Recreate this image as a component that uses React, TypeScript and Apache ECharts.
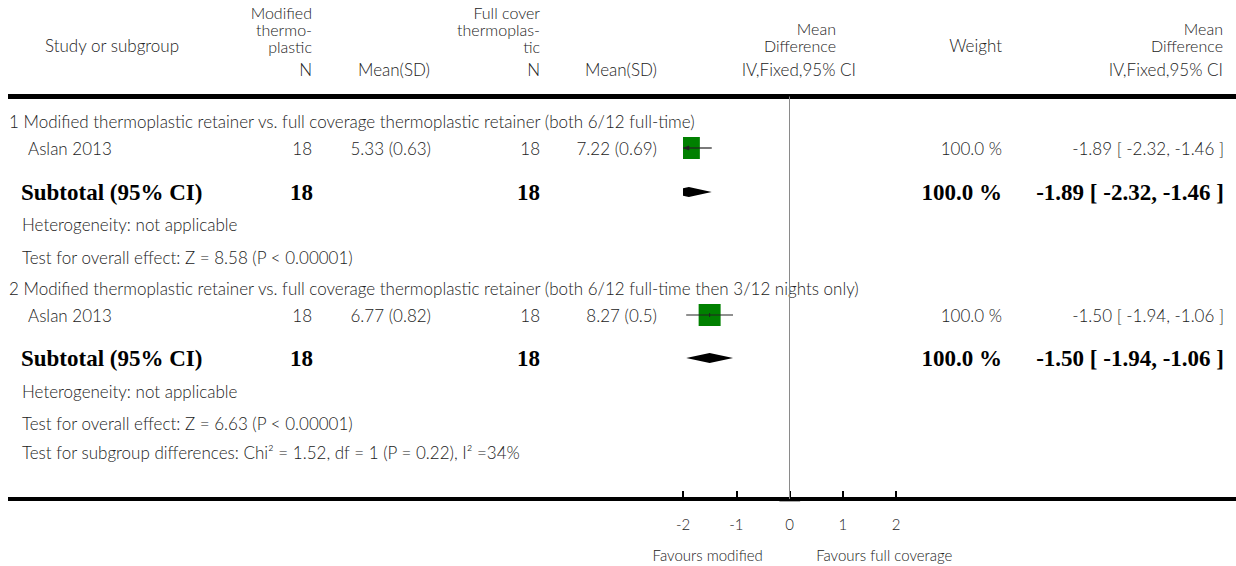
import React, { useEffect, useRef } from "react";
import * as echarts from "echarts";

// ---------- data ----------
const subgroupTitles = [
  "1 Modified thermoplastic retainer vs. full coverage thermoplastic retainer (both 6/12 full-time)",
  "2 Modified thermoplastic retainer vs. full coverage thermoplastic retainer (both 6/12 full-time then 3/12 nights only)",
];
const studyNames = ["Aslan 2013", "Aslan 2013"];
const nModified = [18, 18];
const meanSdModified = ["5.33 (0.63)", "6.77 (0.82)"];
const nFull = [18, 18];
const meanSdFull = ["7.22 (0.69)", "8.27 (0.5)"];
const studyMD = [-1.89, -1.5];
const studyLow = [-2.32, -1.94];
const studyHigh = [-1.46, -1.06];
const studyWeight = [100.0, 100.0];

const subtotalN1 = [18, 18];
const subtotalN2 = [18, 18];
const subtotalMD = [-1.89, -1.5];
const subtotalLow = [-2.32, -1.94];
const subtotalHigh = [-1.46, -1.06];
const subtotalWeight = [100.0, 100.0];

const heterogeneity = ["Heterogeneity: not applicable", "Heterogeneity: not applicable"];
const overallEffect = [
  "Test for overall effect: Z = 8.58 (P < 0.00001)",
  "Test for overall effect: Z = 6.63 (P < 0.00001)",
];
const subgroupDifferences = "Test for subgroup differences: Chi\u00B2 = 1.52, df = 1 (P = 0.22), I\u00B2 =34%";
const xTicks = [-2, -1, 0, 1, 2];
const favoursLeft = "Favours modified";
const favoursRight = "Favours full coverage";

// ---------- layout ----------
const W = 1236;
const H = 566;
const AX_L = 683;
const AX_R = 896;
const TOP = 96.5;
const BOT = 499;
const X_MIN = -2;
const X_MAX = 2;
const ROW_TITLE = [121, 288];
const ROW_STUDY = [148, 315];
const ROW_SUB = [192, 358];
const ROW_HET = [224, 391];
const ROW_OVR = [257, 423];
const ROW_DIFF = 452;

const SANS = "Lato, 'Open Sans', sans-serif";
const SERIF = "'Liberation Serif', 'DejaVu Serif', serif";
const TXT = "#222";
const FS = 17;
const FS_HEAD = 16;
const LH_HEAD = 17;
const FS_BOLD = 23;

const fmt = (v: number) => v.toFixed(2);
const ciText = (m: number, l: number, h: number) => `${fmt(m)} [ ${fmt(l)}, ${fmt(h)} ]`;
const wText = (w: number) => `${w.toFixed(1)} %`;

function t(text: string, x: number, y: number, align = "left", bold = false, size?: number, lineHeight?: number) {
  return {
    type: "text",
    x,
    y,
    silent: true,
    style: {
      text,
      fill: bold ? "#000" : TXT,
      fontFamily: bold ? SERIF : SANS,
      fontWeight: bold ? "bold" : 300,
      fontSize: size ?? (bold ? FS_BOLD : FS),
      lineHeight: lineHeight ?? undefined,
      align,
      textAlign: align,
      verticalAlign: "middle",
      textVerticalAlign: "middle",
    },
  };
}

function clipPoly(pts: number[][], xmin: number, xmax: number) {
  const clipEdge = (poly: number[][], inside: (p: number[]) => boolean, xe: number) => {
    const out: number[][] = [];
    for (let i = 0; i < poly.length; i++) {
      const a = poly[i];
      const b = poly[(i + 1) % poly.length];
      const ina = inside(a);
      const inb = inside(b);
      if (ina) out.push(a);
      if (ina !== inb) {
        const tt = (xe - a[0]) / (b[0] - a[0]);
        out.push([xe, a[1] + tt * (b[1] - a[1])]);
      }
    }
    return out;
  };
  let p = clipEdge(pts, (q) => q[0] >= xmin, xmin);
  p = clipEdge(p, (q) => q[0] <= xmax, xmax);
  return p;
}

export default function App() {
  const ref = useRef<HTMLDivElement>(null);
  useEffect(() => {
    if (!ref.current) return;
    const chart = echarts.init(ref.current, undefined, { renderer: "svg" });
    const px = (v: number) => AX_L + ((v - X_MIN) / (X_MAX - X_MIN)) * (AX_R - AX_L);

    const forestData: any[] = [];
    for (let i = 0; i < studyMD.length; i++) {
      forestData.push([studyMD[i], studyLow[i], studyHigh[i], ROW_STUDY[i], studyWeight[i], 0]);
      forestData.push([subtotalMD[i], subtotalLow[i], subtotalHigh[i], ROW_SUB[i], subtotalWeight[i], 1]);
    }

    const g: any[] = [];
    // header
    g.push(t("Study or subgroup", 45, 45));
    g.push(t("Modified\nthermo-\nplastic", 312, 29, "right", false, FS_HEAD, LH_HEAD));
    g.push(t("N", 312, 69, "right"));
    g.push(t("Mean(SD)", 430, 69, "right"));
    g.push(t("Full cover\nthermoplas-\ntic", 540, 29, "right", false, FS_HEAD, LH_HEAD));
    g.push(t("N", 540, 69, "right"));
    g.push(t("Mean(SD)", 657, 69, "right"));
    g.push(t("Mean\nDifference", 836, 37, "right", false, FS_HEAD, LH_HEAD));
    g.push(t("IV,Fixed,95% CI", 856, 69, "right"));
    g.push(t("Weight", 1002, 45, "right"));
    g.push(t("Mean\nDifference", 1223, 37, "right", false, FS_HEAD, LH_HEAD));
    g.push(t("IV,Fixed,95% CI", 1223, 69, "right"));
    // rules
    g.push({ type: "line", silent: true, shape: { x1: 8, y1: TOP, x2: W, y2: TOP }, style: { stroke: "#000", lineWidth: 5 } });
    g.push({ type: "line", silent: true, shape: { x1: 8, y1: BOT, x2: W, y2: BOT }, style: { stroke: "#000", lineWidth: 4 } });
    g.push({ type: "line", silent: true, shape: { x1: px(-0.19), y1: BOT + 2.5, x2: px(0.2), y2: BOT + 2.5 }, style: { stroke: "#aaa", lineWidth: 1 } });

    for (let i = 0; i < subgroupTitles.length; i++) {
      g.push(t(subgroupTitles[i], 9, ROW_TITLE[i]));
      g.push(t(studyNames[i], 28, ROW_STUDY[i]));
      g.push(t(String(nModified[i]), 312, ROW_STUDY[i], "right"));
      g.push(t(meanSdModified[i], 431, ROW_STUDY[i], "right"));
      g.push(t(String(nFull[i]), 540, ROW_STUDY[i], "right"));
      g.push(t(meanSdFull[i], 657, ROW_STUDY[i], "right"));
      g.push(t(wText(studyWeight[i]), 1002, ROW_STUDY[i], "right"));
      g.push(t(ciText(studyMD[i], studyLow[i], studyHigh[i]), 1224, ROW_STUDY[i], "right"));

      g.push(t("Subtotal (95% CI)", 21, ROW_SUB[i], "left", true));
      g.push(t(String(subtotalN1[i]), 313, ROW_SUB[i], "right", true));
      g.push(t(String(subtotalN2[i]), 540, ROW_SUB[i], "right", true));
      g.push(t(wText(subtotalWeight[i]), 1002, ROW_SUB[i], "right", true));
      g.push(t(ciText(subtotalMD[i], subtotalLow[i], subtotalHigh[i]), 1224, ROW_SUB[i], "right", true));

      g.push(t(heterogeneity[i], 22, ROW_HET[i]));
      g.push(t(overallEffect[i], 22, ROW_OVR[i]));
    }
    g.push(t(subgroupDifferences, 22, ROW_DIFF));
    g.push(t(favoursLeft, px(-0.5), 555, "right", false, 15));
    g.push(t(favoursRight, px(0.5), 555, "left", false, 15));

    chart.setOption({
      animation: false,
      grid: { left: AX_L, top: TOP, width: AX_R - AX_L, height: BOT - TOP, containLabel: false },
      xAxis: {
        type: "value",
        min: X_MIN,
        max: X_MAX,
        interval: 1,
        splitLine: { show: false },
        axisLine: { show: false },
        axisTick: { show: true, inside: true, length: 8, lineStyle: { color: "#000", width: 2 } },
        axisLabel: {
          show: true,
          margin: 17,
          color: TXT,
          fontFamily: SANS,
          fontWeight: 300,
          fontSize: 15,
          customValues: xTicks,
          formatter: (v: number) => String(v),
        },
      },
      yAxis: { type: "value", min: TOP, max: BOT, inverse: true, show: false },
      series: [
        {
          type: "custom",
          data: forestData,
          encode: { x: [0, 1, 2], y: 3 },
          silent: true,
          renderItem: (params: any, api: any) => {
            const cs = params.coordSys;
            const left = cs.x;
            const right = cs.x + cs.width;
            const yv = api.value(3);
            const [cx, cy] = api.coord([api.value(0), yv]);
            const xl = api.coord([api.value(1), yv])[0];
            const xh = api.coord([api.value(2), yv])[0];
            const kind = api.value(5);
            if (kind === 1) {
              const pts = clipPoly([[xl, cy], [cx, cy - 5], [xh, cy], [cx, cy + 5]], left, right);
              return { type: "polygon", shape: { points: pts }, style: { fill: "#000" } };
            }
            const s = 22 * Math.sqrt(api.value(4) / 100);
            const x0 = Math.max(cx - s / 2, left);
            const x1 = Math.min(cx + s / 2, right);
            const children: any[] = [
              { type: "rect", shape: { x: x0, y: cy - s / 2, width: x1 - x0, height: s }, style: { fill: "#008000" } },
              {
                type: "line",
                shape: { x1: Math.max(xl, left), y1: cy, x2: Math.min(xh, right), y2: cy },
                style: { stroke: "#222", lineWidth: 1.2 },
              },
              { type: "line", shape: { x1: cx, y1: cy - 2, x2: cx, y2: cy + 2 }, style: { stroke: "#222", lineWidth: 1 } },
            ];
            if (xl < left) {
              children.push({
                type: "polygon",
                shape: { points: [[left, cy], [left + 6, cy - 2.5], [left + 6, cy + 2.5]] },
                style: { fill: "#222" },
              });
            }
            if (xh > right) {
              children.push({
                type: "polygon",
                shape: { points: [[right, cy], [right - 6, cy - 2.5], [right - 6, cy + 2.5]] },
                style: { fill: "#222" },
              });
            }
            return { type: "group", children };
          },
          markLine: {
            silent: true,
            symbol: "none",
            label: { show: false },
            lineStyle: { color: "#8a8a8a", width: 1, type: "solid" },
            data: [{ xAxis: 0 }],
          },
        },
      ],
      graphic: g,
    });
    return () => chart.dispose();
  }, []);
  return <div ref={ref} style={{ position: "absolute", left: 0, top: 0, width: W, height: H }} />;
}
